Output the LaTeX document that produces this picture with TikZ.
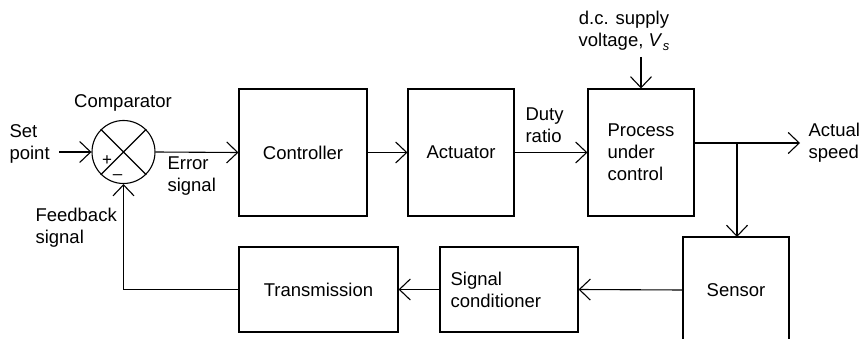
\documentclass[tikz,border=0pt]{standalone}
\usepackage{fontspec}
\setmainfont{Liberation Sans}
\usetikzlibrary{arrows.meta}
\begin{document}
\begin{tikzpicture}[x=1pt,y=-1pt,
  line width=1.1pt,
  every node/.style={font=\fontsize{18.5}{22}\selectfont},
  block/.style={draw, rectangle, inner sep=0pt},
  lbl/.style={inner sep=0pt, align=left},
  sig/.style={-{Straight Barb[length=11pt,width=21pt,line width=1.1pt]}},
  sgn/.style={inner sep=0pt, font=\fontsize{17}{17}\selectfont}]
\useasboundingbox (0,0) rectangle (861,339);

% forward path
\node[draw, circle, minimum size=63pt, inner sep=0pt] (cmp) at (123.5,152) {};
\draw (cmp.45) -- (cmp.225) (cmp.135) -- (cmp.315);
\node[sgn] (plus) at (107,161) {+};
\node[sgn] (minus) at (117.5,177) {\textendash};
\node[lbl] (cmplbl) at (123,103) {Comparator};

\node[block, minimum width=128pt, minimum height=127pt] (ctrl) at (303,152.5) {Controller};
\node[block, minimum width=106pt, minimum height=127pt] (act) at (461,152.5) {Actuator};
\node[block, minimum width=106pt, minimum height=127pt, align=left] (proc) at (641,152.5) {Process\\under\\control};

% feedback path
\node[block, minimum width=159pt, minimum height=85pt] (trans) at (318.5,289.5) {Transmission};
\node[block, minimum width=138pt, minimum height=85pt] (cond) at (509,289.5) {};
\node[lbl, anchor=west] (condlbl) at (450,290) {Signal\\conditioner};
\node[inner sep=0pt] (sensor) at (736,290) {Sensor};
\coordinate (senW) at (683,290);
\coordinate (senT) at (737,237);
\draw (683,339) -- (683,237) -- (789,237) -- (789,339);

% free ends
\coordinate (setp) at (59,152);
\coordinate (dc) at (641,57);
\coordinate (out) at (800,143);
\coordinate (branch) at (737,143);

% labels
\node[lbl, anchor=west] (setlbl) at (9,144) {Set\\point};
\node[lbl, anchor=west] (errlbl) at (167,176) {Error\\signal};
\node[lbl, anchor=west] (fblbl) at (35,228) {Feedback\\signal};
\node[lbl, anchor=west] (dutylbl) at (525,125) {Duty\\ratio};
\node[lbl, align=center] (dclbl) at (624,31) {d.c. supply\\voltage, \textit{V}\kern0.5pt\raisebox{-0.35ex}{\fontsize{13}{13}\selectfont\textit{s}}};
\node[lbl, anchor=west] (spdlbl) at (808,143) {Actual\\speed};

% connectors
\draw[sig] (setp) -- (cmp.west);
\draw[sig] (cmp.east) -- (ctrl.west);
\draw[sig] (ctrl.east) -- (act.west);
\draw[sig] (act.east) -- (proc.west);
\draw[sig] (dc) -- (proc.north);
\draw[sig] (proc.east |- out) -- (out);
\draw[sig] (branch) -- (senT);
\draw[sig] (senW) -- (cond.east);
\draw[sig] (cond.west) -- (trans.east);
\draw[sig] (trans.west) -- (cmp.south |- trans.west) -- (cmp.south);
\end{tikzpicture}
\end{document}
